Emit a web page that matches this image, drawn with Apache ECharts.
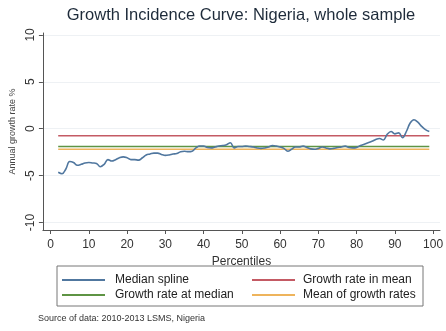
<!DOCTYPE html>
<html>
<head>
<meta charset="utf-8">
<script src="https://cdn.jsdelivr.net/npm/echarts@6/dist/echarts.min.js"></script>
<style>
  html, body { margin: 0; padding: 0; background: #fff; }
  #chart { width: 446px; height: 331px; }
</style>
</head>
<body>
<div id="chart"></div>
<script>
// percentiles 2..99 and the median spline
var percentiles = [2,3,4,5,6,7,8,9,10,11,12,13,14,15,16,17,18,19,20,21,22,23,24,25,26,27,28,29,30,31,32,33,34,35,36,37,38,39,40,41,42,43,44,45,46,47,48,49,50,51,52,53,54,55,56,57,58,59,60,61,62,63,64,65,66,67,68,69,70,71,72,73,74,75,76,77,78,79,80,81,82,83,84,85,86,87,88,89,90,91,92,93,94,95,96,97,98,99]
var medianSpline = [
  -4.65,-4.8,-4.3,-3.5,-3.6,-3.9,-3.8,-3.65,-3.6,-3.65,
  -3.7,-4.05,-3.8,-3.3,-3.45,-3.3,-3.1,-3.0,-3.1,-3.3,
  -3.3,-3.35,-3.1,-2.8,-2.7,-2.6,-2.6,-2.75,-2.85,-2.8,
  -2.7,-2.65,-2.45,-2.4,-2.45,-2.4,-2.05,-1.85,-1.85,-2.0,
  -2.05,-1.95,-1.85,-1.8,-1.7,-1.5,-2.05,-1.9,-1.9,-1.85,
  -1.9,-1.95,-2.05,-2.1,-2.05,-1.95,-1.8,-1.85,-1.95,-2.1,
  -2.4,-2.2,-1.95,-1.95,-1.85,-2.0,-2.15,-2.2,-2.1,-1.95,
  -2.05,-2.15,-2.1,-2.0,-1.95,-1.85,-2.0,-2.05,-2.0,-1.8,
  -1.65,-1.5,-1.35,-1.15,-1.05,-1.2,-0.6,-0.3,-0.55,-0.45,
  -0.95,-0.3,0.6,0.95,0.7,0.25,-0.1,-0.3
]
var growthInMean = -0.75
var growthAtMedian = -1.9
var meanOfGrowthRates = -2.2
var xTicks = [0,10,20,30,40,50,60,70,80,90,100]
var yTicks = [-10,-5,0,5,10]

var first = percentiles[0]
var last = percentiles[percentiles.length - 1]
function flat(v) { return [[first, v], [last, v]] }

var chart = echarts.init(document.getElementById('chart'))

var axisText = { color: '#333', fontFamily: 'Liberation Sans', fontSize: 12 }

chart.setOption({
    animation: false,
    title: {
        text: 'Growth Incidence Curve: Nigeria, whole sample',
        left: 241, top: 7, textAlign: 'center', padding: 0,
        textStyle: { color: '#1e2b3a', fontFamily: 'Liberation Sans', fontSize: 16.5, fontWeight: 'normal' }
    },
    grid: { left: 35, right: 0, top: 33, bottom: 101 },
    xAxis: {
        type: 'value', min: -2, max: 101.8, splitNumber: 10,
        name: 'Percentiles', nameLocation: 'middle', nameGap: 21,
        nameTextStyle: axisText,
        axisLine: { onZero: false, lineStyle: { color: '#555' } },
        axisTick: { length: 4, customValues: xTicks, lineStyle: { color: '#555' } },
        axisLabel: Object.assign({ customValues: xTicks, margin: 9 }, axisText),
        splitLine: { show: false }
    },
    yAxis: {
        type: 'value', min: -10.8, max: 10.2, splitNumber: 5,
        name: 'Annual growth rate %', nameLocation: 'middle', nameGap: 24, nameRotate: 90,
        nameTextStyle: { color: '#444', fontFamily: 'Liberation Sans', fontSize: 9 },
        axisLine: { show: true, onZero: false, lineStyle: { color: '#555' } },
        axisTick: { show: true, length: 4, customValues: yTicks, lineStyle: { color: '#555' } },
        axisLabel: Object.assign({ customValues: yTicks, rotate: 90, margin: 6 }, axisText),
        splitLine: { show: true, lineStyle: { color: '#eef1f4' } }
    },
    legend: [
        {
            data: ['Median spline', 'Growth rate at median'],
            orient: 'vertical', left: 62, top: 274, itemGap: 3, padding: 0,
            itemWidth: 43, itemHeight: 2, icon: 'rect',
            textStyle: { color: '#222', fontFamily: 'Liberation Sans', fontSize: 12, padding: [0, 0, 0, 5] }
        },
        {
            data: ['Growth rate in mean', 'Mean of growth rates'],
            orient: 'vertical', left: 252, top: 274, itemGap: 3, padding: 0,
            itemWidth: 43, itemHeight: 2, icon: 'rect',
            textStyle: { color: '#222', fontFamily: 'Liberation Sans', fontSize: 12, padding: [0, 0, 0, 3] }
        }
    ],
    graphic: [
        {
            type: 'rect', shape: { x: 57, y: 266, width: 366, height: 40 },
            style: { fill: 'none', stroke: '#777', lineWidth: 1 }
        },
        {
            type: 'text', left: 38, top: 314,
            style: { text: 'Source of data: 2010-2013 LSMS, Nigeria', fill: '#333', font: '9px "Liberation Sans"' }
        }
    ],
    series: [
        {
            name: 'Median spline', type: 'line', smooth: 0.4, symbol: 'none', z: 5,
            data: percentiles.map(function (p, i) { return [p, medianSpline[i]] }),
            lineStyle: { color: '#50779f', width: 1.6 }, itemStyle: { color: '#50779f' }
        },
        {
            name: 'Growth rate in mean', type: 'line', symbol: 'none',
            data: flat(growthInMean),
            lineStyle: { color: '#c45a64', width: 1.5 }, itemStyle: { color: '#c45a64' }
        },
        {
            name: 'Growth rate at median', type: 'line', symbol: 'none',
            data: flat(growthAtMedian),
            lineStyle: { color: '#5e9444', width: 1.5 }, itemStyle: { color: '#5e9444' }
        },
        {
            name: 'Mean of growth rates', type: 'line', symbol: 'none',
            data: flat(meanOfGrowthRates),
            lineStyle: { color: '#eeb45c', width: 1.5 }, itemStyle: { color: '#eeb45c' }
        }
    ]
})
</script>
</body>
</html>
